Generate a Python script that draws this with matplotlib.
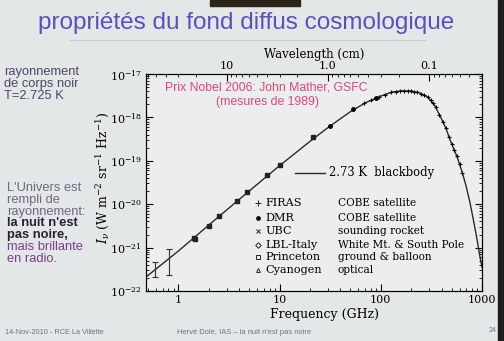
import numpy as np
import matplotlib.pyplot as plt
import matplotlib as mpl
from matplotlib.patches import Rectangle
from matplotlib.ticker import NullFormatter, LogLocator

mpl.rc("font", family="DejaVu Serif", size=8)
mpl.rc("mathtext", fontset="dejavuserif")

# ----- data -----
# 2.73 K blackbody curve (GHz, W m^-2 sr^-1 Hz^-1)
bb_freq = [0.48, 1, 2, 5, 10, 20, 30, 50, 70, 100, 130, 160, 200, 240, 290,
           340, 390, 440, 490, 570, 640, 700, 760, 810, 860, 900, 940, 1000]
bb_int = [2.1e-22, 8.3e-22, 3.3e-21, 2.0e-20, 7.7e-20, 2.8e-19, 5.8e-19, 1.35e-18,
          2.15e-18, 3.1e-18, 3.85e-18, 4.1e-18, 4.05e-18, 3.7e-18, 2.95e-18,
          1.9e-18, 1.02e-18, 5.6e-19, 2.8e-19, 1.2e-19, 5.3e-20, 2.5e-20,
          1.1e-20, 5.2e-21, 2.5e-21, 1.4e-21, 7.5e-22, 3.5e-22]

# FIRAS
firas_freq = [68, 80, 95, 110, 125, 140, 155, 170, 185, 200, 215, 230, 250, 270,
              290, 310, 330, 350, 380, 410, 440, 470, 500, 530, 560, 600, 640]
firas_int = [2.1e-18, 2.5e-18, 2.95e-18, 3.35e-18, 3.75e-18, 3.95e-18, 4.05e-18,
             4.1e-18, 4.1e-18, 4.05e-18, 3.95e-18, 3.8e-18, 3.55e-18, 3.25e-18,
             2.95e-18, 2.5e-18, 2.1e-18, 1.7e-18, 1.15e-18, 7.9e-19, 5.6e-19,
             3.6e-19, 2.5e-19, 1.8e-19, 1.3e-19, 8.3e-20, 5.3e-20]

# DMR
dmr_freq = [31.5, 53, 90]
dmr_int = [6.5e-19, 1.6e-18, 2.8e-18]

# ground / balloon / rocket points
low_freq = [1.44, 1.47, 2.0, 2.5, 3.8, 4.8, 7.5, 10.0, 21.6]
low_int = [1.7e-21, 1.6e-21, 3.2e-21, 5.4e-21, 1.2e-20, 1.9e-20, 4.7e-20, 7.9e-20, 3.5e-19]

# points with error bars
err_freq = [0.59, 0.815]
err_int = [3.4e-22, 5.5e-22]
err_lo = [2.1e-22, 2.3e-22]
err_hi = [4.7e-22, 9.3e-22]

legend_rows = [
    ("+", "FIRAS", "COBE satellite"),
    ("o", "DMR", "COBE satellite"),
    ("x", "UBC", "sounding rocket"),
    ("D", "LBL-Italy", "White Mt. & South Pole"),
    ("s", "Princeton", "ground & balloon"),
    ("^", "Cyanogen", "optical"),
]

xlim = [0.48, 1000]
ylim = [1e-22, 1e-17]
bg = "#e3e7e7"

# ----- figure -----
fig = plt.figure(figsize=(5.04, 3.41), dpi=100, facecolor=bg)

# top dark strip and right dark edge of the photo
fig.patches.append(Rectangle((210/504, 1-6/341), 90/504, 6/341, transform=fig.transFigure,
                             color="#2b2418", zorder=0))
fig.patches.append(Rectangle((498/504, 0), 6/504, 1, transform=fig.transFigure,
                             color="#1e1e1e", zorder=0))

fig.text(246/504, 1-23/341, "propriétés du fond diffus cosmologique", ha="center", va="center",
         fontsize=17.5, family="Liberation Sans", color="#5b4fc4")
fig.add_artist(plt.Line2D([70/504, 425/504], [1-40/341, 1-40/341], transform=fig.transFigure,
                          color="#c8cccc", lw=0.8))

ax = fig.add_axes([146/504, 50/341, 336/504, 217/341])
ax.set_facecolor("#eceeee")
ax.set_xscale("log")
ax.set_yscale("log")

ax.plot(bb_freq, bb_int, color="#2a2a2a", lw=1.0)
ax.plot(firas_freq, firas_int, "+", color="k", ms=3, mew=0.8)
ax.plot(dmr_freq, dmr_int, "o", color="k", ms=2.5)
ax.plot(low_freq, low_int, "s", color="#222222", ms=2.5)
yerr = [np.array(err_int) - np.array(err_lo), np.array(err_hi) - np.array(err_int)]
ax.errorbar(err_freq, err_int, yerr=yerr, fmt="none", ecolor="#333333", elinewidth=0.8,
            capsize=2, capthick=0.8)

ax.set_xlim(xlim)
ax.set_ylim(ylim)
ax.set_xticks([1, 10, 100, 1000], labels=["1", "10", "100", "1000"])
ax.xaxis.set_minor_formatter(NullFormatter())
ax.yaxis.set_major_locator(LogLocator(base=10, numticks=10))
ax.yaxis.set_minor_locator(LogLocator(base=10, subs=np.arange(2, 10), numticks=10))
ax.tick_params(which="both", direction="in", right=True, top=False, labelsize=8, pad=3)
ax.tick_params(which="major", length=5)
ax.tick_params(which="minor", length=2.5)

ax.set_xlabel("Frequency (GHz)", fontsize=9)
ax.xaxis.set_label_coords(0.53, -0.08)
fig.text(103/504, 1-178/341, r"$I_\nu$ (W m$^{-2}$ sr$^{-1}$ Hz$^{-1}$)", rotation=90,
         ha="center", va="center", fontsize=9)

# wavelength axis on top
ax2 = ax.twiny()
ax2.set_xscale("log")
ax2.set_xlim(30.0/xlim[0], 30.0/xlim[1])
ax2.set_xticks([10, 1, 0.1], labels=["10", "1.0", "0.1"])
ax2.xaxis.set_minor_formatter(NullFormatter())
ax2.tick_params(which="both", direction="in", labelsize=8, pad=2)
ax2.tick_params(which="major", length=5)
ax2.tick_params(which="minor", length=2.5)
ax2.set_xlabel("Wavelength (cm)", fontsize=8.5, labelpad=2)

# red annotation
ax.text(0.357, 0.940, "Prix Nobel 2006: John Mather, GSFC", transform=ax.transAxes,
        ha="center", va="center", family="Liberation Sans", fontsize=8.8, color="#e0457e")
ax.text(0.363, 0.871, "(mesures de 1989)", transform=ax.transAxes,
        ha="center", va="center", family="Liberation Sans", fontsize=8.8, color="#e0457e")

# legend drawn as a table
ax.plot([0.443, 0.533], [0.544, 0.544], transform=ax.transAxes, color="#2a2a2a", lw=1.0)
ax.text(0.545, 0.544, "2.73 K  blackbody", transform=ax.transAxes, va="center", fontsize=8.3)
row_y = [0.406, 0.336, 0.276, 0.212, 0.157, 0.097]
for (mk, name, desc), yy in zip(legend_rows, row_y):
    filled = mk in ("o",)
    ax.plot(0.333, yy, mk, transform=ax.transAxes, ms=2.8 if mk != "+" else 4,
            mfc="k" if filled else "none", mec="#222222", mew=0.7)
    ax.text(0.356, yy, name, transform=ax.transAxes, va="center", fontsize=8.1)
    ax.text(0.571, yy, desc, transform=ax.transAxes, va="center", fontsize=7.6)

# left side slide text
sans = "Liberation Sans"
for i, line in enumerate(["rayonnement", "de corps noir", "T=2.725 K"]):
    fig.text(4/504, 1-(72+11.8*i)/341, line, va="center", family=sans, fontsize=9.3,
             color="#4f4766")
side = [
    ("L'Univers est", "#6d6a84", "normal"),
    ("rempli de", "#6d6a84", "normal"),
    ("rayonnement:", "#6d6a84", "normal"),
    ("la nuit n'est", "#25232e", "bold"),
    ("pas noire,", "#25232e", "bold"),
    ("mais brillante", "#7a3f8c", "normal"),
    ("en radio.", "#7a3f8c", "normal"),
]
for i, (line, col, wt) in enumerate(side):
    fig.text(7/504, 1-(188+11.8*i)/341, line, va="center", family=sans, fontsize=9.3,
             color=col, fontweight=wt)

# footer
fig.text(5/504, 1-333/341, "14-Nov-2010 - RCE La Villette", va="center", family=sans,
         fontsize=5.3, color="#6a7090")
fig.text(177/504, 1-333/341, "Hervé Dole, IAS – la nuit n'est pas noire", va="center",
         family=sans, fontsize=5.4, color="#6a7090")
fig.text(489/504, 1-330/341, "24", va="center", family=sans, fontsize=5, color="#6a7090")

plt.savefig("out.png", dpi=100, facecolor=bg)
